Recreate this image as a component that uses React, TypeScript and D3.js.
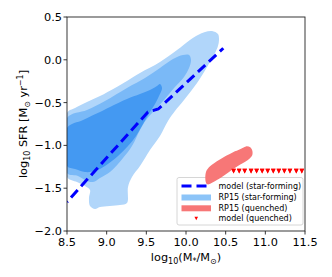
import React from "react";
import * as d3 from "d3";

// ---- data ----
const xTicks = [8.5, 9.0, 9.5, 10.0, 10.5, 11.0, 11.5];
const yTicks = [0.5, 0.0, -0.5, -1.0, -1.5, -2.0];

// RP15 star-forming density contours (mass, sfr)
const sfOuterMass = [8.5, 8.601, 8.752, 8.916, 9.105, 9.256, 9.42, 9.672, 9.887, 10.05, 10.151, 10.24, 10.328, 10.403, 10.416, 10.403, 10.366, 10.265, 10.139, 9.975, 9.861, 9.773, 9.672, 9.546, 9.42, 9.319, 9.269, 9.256, 9.168, 8.916, 8.853, 8.79, 8.777, 8.79, 8.727, 8.626, 8.5];
const sfOuterSfr = [-0.621, -0.563, -0.493, -0.423, -0.329, -0.248, -0.154, -0.026, 0.114, 0.231, 0.29, 0.325, 0.336, 0.301, 0.231, 0.161, 0.079, -0.084, -0.271, -0.47, -0.598, -0.715, -0.89, -1.054, -1.241, -1.369, -1.486, -1.673, -1.696, -1.72, -1.743, -1.708, -1.614, -1.521, -1.474, -1.428, -1.369];

const sfMidMass = [8.5, 8.752, 8.979, 9.256, 9.483, 9.672, 9.836, 9.962, 10.038, 10.063, 10.038, 9.975, 9.849, 9.723, 9.584, 9.496, 9.42, 9.319, 9.206, 9.042, 8.916, 8.828, 8.727, 8.639, 8.5];
const sfMidSfr = [-0.68, -0.586, -0.481, -0.329, -0.213, -0.096, 0.009, 0.056, 0.056, -0.002, -0.096, -0.201, -0.329, -0.47, -0.61, -0.703, -0.82, -1.007, -1.147, -1.311, -1.381, -1.428, -1.404, -1.357, -1.322];

const sfInnerMass = [8.5, 8.702, 8.916, 9.042, 9.256, 9.42, 9.546, 9.634, 9.672, 9.698, 9.66, 9.609, 9.546, 9.458, 9.37, 9.269, 9.143, 8.979, 8.853, 8.727, 8.601, 8.5];
const sfInnerSfr = [-0.797, -0.703, -0.61, -0.551, -0.458, -0.4, -0.353, -0.306, -0.283, -0.329, -0.423, -0.516, -0.61, -0.75, -0.89, -1.007, -1.124, -1.241, -1.299, -1.311, -1.276, -1.241];

// RP15 quenched contour
const qMass = [10.25, 10.252, 10.303, 10.416, 10.593, 10.681, 10.756, 10.81, 10.835, 10.835, 10.78, 10.719, 10.593, 10.466, 10.34, 10.27];
const qSfr = [-1.43, -1.311, -1.245, -1.17, -1.08, -1.045, -1.012, -1.022, -1.06, -1.115, -1.17, -1.205, -1.275, -1.36, -1.43, -1.455];

// model star-forming relation
const modelSfMass = [8.5, 9.52, 9.65, 10.47];
const modelSfSfr = [-1.66, -0.61, -0.575, 0.135];

// model quenched
const modelQMass = [10.6, 10.67, 10.74, 10.82, 10.89, 10.96, 11.03, 11.1, 11.17, 11.24, 11.31, 11.39, 11.46];
const modelQSfr = [-1.3, -1.3, -1.3, -1.3, -1.3, -1.3, -1.3, -1.3, -1.3, -1.3, -1.3, -1.3, -1.3];

const legendLabels = ["model (star-forming)", "RP15 (star-forming)", "RP15 (quenched)", "model (quenched)"];

const FONT = "DejaVu Sans, sans-serif";

export default function App() {
  const W = 332, H = 277;
  const L = 67, R = 305, T = 17, B = 231;
  const x = d3.scaleLinear().domain([8.5, 11.5]).range([L, R]);
  const y = d3.scaleLinear().domain([-2.0, 0.5]).range([B, T]);

  const poly = (ms: number[], ss: number[]) =>
    d3.line<number>().x((_, i) => x(ms[i])).y((_, i) => y(ss[i])).curve(d3.curveCatmullRomClosed.alpha(0.5))(ms.map((m) => m)) || "";

  const modelLine =
    d3.line<number>().x((_, i) => x(modelSfMass[i])).y((_, i) => y(modelSfSfr[i]))(modelSfMass) || "";

  const tri = (cx: number, cy: number, s = 2.3) =>
    `M${cx - s},${cy - s}L${cx + s},${cy - s}L${cx},${cy + s}Z`;

  const fmt = (v: number) => (v < 0 ? "\u2212" + Math.abs(v).toFixed(1) : v.toFixed(1));

  const lgX = 177, lgY = 177.5, lgW = 126, lgH = 47.5;
  const rowY = [186, 197.5, 208.3, 218.5];
  const hx0 = 181.5, hx1 = 211;

  return (
    <svg width={W} height={H} style={{ position: "absolute", left: 0, top: 0, background: "#fff" }} fontFamily={FONT}>
      <defs>
        <clipPath id="plotclip">
          <rect x={L} y={T} width={R - L} height={B - T} />
        </clipPath>
      </defs>
      <g clipPath="url(#plotclip)">
        <path d={poly(sfOuterMass, sfOuterSfr)} fill="#b1d6fa" />
        <path d={poly(sfMidMass, sfMidSfr)} fill="#7ab9f7" />
        <path d={poly(sfInnerMass, sfInnerSfr)} fill="#4499f2" />
        <path d={modelLine} fill="none" stroke="#0000ff" strokeWidth={3} strokeDasharray="10,5" strokeDashoffset={9} />
        {modelQMass.map((m, i) => (
          <path key={i} d={tri(x(m), y(modelQSfr[i]))} fill="#ff0000" />
        ))}
      </g>

      {/* legend */}
      <rect x={lgX} y={lgY} width={lgW} height={lgH} rx={2} fill="#ffffff" fillOpacity={0.8} stroke="#cccccc" strokeWidth={0.8} />
      <line x1={hx0} x2={hx1} y1={rowY[0]} y2={rowY[0]} stroke="#0000ff" strokeWidth={3} strokeDasharray="10,5" />
      <rect x={hx0} y={rowY[1] - 3} width={hx1 - hx0} height={6} fill="#8cc4f8" />
      <rect x={hx0} y={rowY[2] - 3} width={hx1 - hx0} height={6} fill="#f77777" />
      <path d={tri((hx0 + hx1) / 2, rowY[3], 1.8)} fill="#ff0000" />
      {legendLabels.map((t, i) => (
        <text key={t} x={218.5} y={rowY[i] + 2.9} fontSize={8} fill="#000">{t}</text>
      ))}

      {/* quenched region drawn above legend frame, as in reference */}
      <g clipPath="url(#plotclip)">
        <path d={poly(qMass, qSfr)} fill="#f77777" />
        {modelQMass.map((m, i) => (
          <path key={"q" + i} d={tri(x(m), y(modelQSfr[i]))} fill="#ff0000" />
        ))}
      </g>

      {/* axes frame */}
      <rect x={L} y={T} width={R - L} height={B - T} fill="none" stroke="#222" strokeWidth={0.9} />

      {/* x ticks */}
      {xTicks.map((v) => (
        <g key={"x" + v}>
          <line x1={x(v)} x2={x(v)} y1={B} y2={B + 3.5} stroke="#222" strokeWidth={0.9} />
          <text x={x(v)} y={246} fontSize={11.3} textAnchor="middle" fill="#000">{v.toFixed(1)}</text>
        </g>
      ))}
      {/* y ticks */}
      {yTicks.map((v) => (
        <g key={"y" + v}>
          <line x1={L - 3.5} x2={L} y1={y(v)} y2={y(v)} stroke="#222" strokeWidth={0.9} />
          <text x={62} y={y(v) + 4} fontSize={11.3} textAnchor="end" fill="#000">{fmt(v)}</text>
        </g>
      ))}

      {/* x label */}
      <text x={186} y={261} fontSize={11.3} textAnchor="middle" fill="#000">
        log<tspan fontSize={8} dy={3}>10</tspan>
        <tspan dy={-3}>(M</tspan>
        <tspan fontSize={8} dy={3}>*</tspan>
        <tspan dy={-3}>/M</tspan>
        <tspan fontSize={8} dy={3}>{"\u2299"}</tspan>
        <tspan dy={-3}>)</tspan>
      </text>

      {/* y label */}
      <text transform="translate(27,124) rotate(-90)" fontSize={11.3} textAnchor="middle" fill="#000">
        log<tspan fontSize={8} dy={3}>10</tspan>
        <tspan dy={-3}> SFR [M</tspan>
        <tspan fontSize={8} dy={3}>{"\u2299"}</tspan>
        <tspan dy={-3}> yr</tspan>
        <tspan fontSize={8} dy={-4}>{"\u22121"}</tspan>
        <tspan dy={4}>]</tspan>
      </text>
    </svg>
  );
}
